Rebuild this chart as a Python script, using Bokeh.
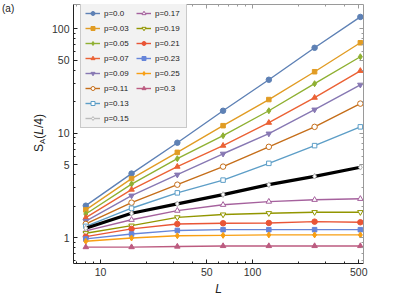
import math
from bokeh.plotting import figure
from bokeh.models import LogAxis, FixedTicker, Legend, LegendItem, Range1d, Div
from bokeh.layouts import row
from bokeh.embed import file_html
from bokeh.resources import INLINE

L_values = [8, 16, 32, 64, 128, 256, 512]

p_labels = ["p=0.0", "p=0.03", "p=0.05", "p=0.07", "p=0.09", "p=0.11", "p=0.13",
            "p=0.15", "p=0.17", "p=0.19", "p=0.21", "p=0.23", "p=0.25", "p=0.3"]

s_p000 = [2.02, 4.1, 8.1, 16.4, 32.5, 65.8, 130]
s_p003 = [1.84, 3.67, 6.55, 11.8, 21.0, 38.8, 73.5]
s_p005 = [1.68, 3.25, 5.7, 9.46, 16.4, 29.8, 54]
s_p007 = [1.55, 2.88, 4.78, 7.6, 12.6, 21.9, 39.6]
s_p009 = [1.44, 2.52, 4.0, 6.35, 9.9, 16.8, 29.1]
s_p011 = [1.35, 2.16, 3.21, 4.78, 7.4, 11.5, 19.2]
s_p013 = [1.28, 1.91, 2.68, 3.55, 5.14, 7.6, 11.5]
s_p015 = [1.23, 1.71, 2.10, 2.58, 3.21, 3.86, 4.71]
s_p017 = [1.16, 1.48, 1.81, 2.06, 2.21, 2.30, 2.35]
s_p019 = [1.10, 1.30, 1.56, 1.66, 1.71, 1.75, 1.75]
s_p021 = [1.02, 1.21, 1.35, 1.37, 1.38, 1.42, 1.40]
s_p023 = [0.97, 1.08, 1.17, 1.19, 1.19, 1.19, 1.19]
s_p025 = [0.92, 0.99, 1.04, 1.05, 1.06, 1.06, 1.06]
s_p030 = [0.81, 0.81, 0.82, 0.83, 0.83, 0.83, 0.83]

series = [s_p000, s_p003, s_p005, s_p007, s_p009, s_p011, s_p013,
          s_p015, s_p017, s_p019, s_p021, s_p023, s_p025, s_p030]

x_major = [10, 50, 100, 500]
x_minor = [7, 8, 9, 20, 30, 40, 60, 70, 80, 90, 200, 300, 400]
y_major = [1, 5, 10, 50, 100]
y_minor = [0.6, 0.7, 0.8, 0.9, 2, 3, 4, 6, 7, 8, 9, 20, 30, 40, 60, 70, 80, 90]

colors = ["#5E81B5", "#E19C24", "#8FB032", "#EB6235", "#8778B3", "#C56E1A", "#5D9EC7",
          "#BBBBBB", "#A5619D", "#929600", "#E95536", "#6685D9", "#F89F13", "#BC5B80"]
markers = ["circle", "square", "diamond", "triangle", "inverted_triangle",
           "circle", "square", "diamond", "triangle", "inverted_triangle",
           "circle", "square", "diamond", "triangle"]
filled = [True] * 5 + [False] * 5 + [True] * 4
sizes = [5.5, 4.5, 6, 5.5, 5.5, 5.5, 4.5, 5.5, 5.5, 5.5, 5.5, 4.5, 6, 5.5]

FONT = "Liberation Sans"

p = figure(frame_width=290, frame_height=259, x_axis_type="log", y_axis_type="log",
           x_range=Range1d(6.64, 537), y_range=Range1d(0.564, 171),
           output_backend="svg", toolbar_location=None,
           min_border_left=24, min_border_right=21, min_border_top=4, min_border_bottom=28)
p.xgrid.visible = False
p.ygrid.visible = False
p.outline_line_color = None
p.background_fill_color = "white"
p.border_fill_color = "white"

def style_axis(ax, main=True):
    ax.major_tick_in = 4
    ax.major_tick_out = 0
    ax.minor_tick_in = 2
    ax.minor_tick_out = 0
    col = "#222222" if main else "#9A9A9A"
    ax.axis_line_color = col
    ax.major_tick_line_color = col
    ax.minor_tick_line_color = col
    ax.major_label_text_font = FONT
    ax.major_label_text_font_size = "10.5px"
    ax.major_label_text_color = "#333333"
    ax.major_label_standoff = 4

p.xaxis.ticker = FixedTicker(ticks=x_major, minor_ticks=x_minor)
p.yaxis.ticker = FixedTicker(ticks=y_major, minor_ticks=y_minor)
style_axis(p.xaxis[0])
style_axis(p.yaxis[0])
p.xaxis.axis_label = "L"
p.xaxis.axis_label_text_font = FONT
p.xaxis.axis_label_text_font_style = "italic"
p.xaxis.axis_label_text_font_size = "12px"
p.xaxis.axis_label_text_color = "#222222"
p.xaxis.axis_label_standoff = 3

top_ax = LogAxis(ticker=FixedTicker(ticks=x_major, minor_ticks=x_minor),
                 major_label_overrides={t: "" for t in x_major})
right_ax = LogAxis(ticker=FixedTicker(ticks=y_major, minor_ticks=y_minor),
                   major_label_overrides={t: "" for t in y_major})
for ax in (top_ax, right_ax):
    style_axis(ax, main=False)
    ax.major_label_standoff = 0
p.add_layout(top_ax, "above")
p.add_layout(right_ax, "right")

items = []
p15_idx = 7
for i, ys in enumerate(series):
    lr = p.line(L_values, ys, line_color=colors[i], line_width=1.4)
    sr = p.scatter(L_values, ys, marker=markers[i], size=sizes[i],
                   line_color=colors[i], line_width=1.0,
                   fill_color=colors[i] if filled[i] else "white")
    items.append(LegendItem(label=p_labels[i], renderers=[lr, sr]))

# thick black line through the p=0.15 data
p.line(L_values, s_p015, line_color="black", line_width=3.2)
p.scatter(L_values, s_p015, marker="diamond", size=sizes[p15_idx],
          line_color=colors[p15_idx], fill_color="white", line_width=1.0)

legend = Legend(items=items, location=(7, 135), nrows=8,
                label_text_font=FONT, label_text_font_size="8px", label_text_color="#222222",
                glyph_width=15, glyph_height=10, label_height=10, label_width=27,
                label_standoff=4, spacing=5, padding=4, margin=0,
                background_fill_color="#F2F2F2", background_fill_alpha=1.0,
                border_line_color="#A0A0A0", border_line_width=1)
p.add_layout(legend, "center")

side_html = (
    '<div style="position:relative;width:48px;height:291px;'
    'font-family:\'Liberation Sans\',sans-serif;color:#222222;">'
    '<div style="position:absolute;left:2px;top:3px;font-size:10px;line-height:12px;">(a)</div>'
    '<div style="position:absolute;left:41px;top:133px;white-space:nowrap;font-size:12px;'
    'line-height:14px;transform:translate(-50%,-50%) rotate(-90deg);">'
    'S<sub style="font-size:8px;vertical-align:-2px;">A</sub>(<i>L</i>/4)</div>'
    '</div>'
)
side = Div(text=side_html, width=48, height=291, margin=0)

layout = row(side, p)
open("out.html", "w").write(file_html(layout, INLINE))
